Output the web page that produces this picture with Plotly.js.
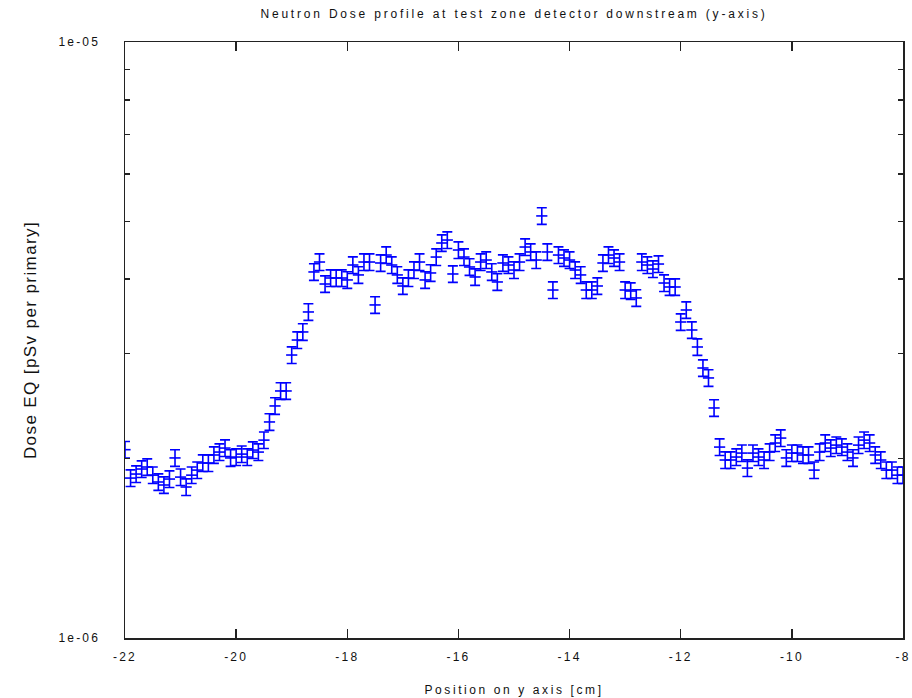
<!DOCTYPE html>
<html>
<head>
<meta charset="utf-8">
<script src="https://cdn.plot.ly/plotly-3.0.1.min.js"></script>
<style>
  html, body { margin: 0; padding: 0; background: #fff; }
  #chart { width: 912px; height: 698px; }
  #chart .gtitle { letter-spacing: 2.8px; }
  #chart .xtitle { letter-spacing: 2.6px; }
  #chart .ytitle { letter-spacing: 1.4px; }
  #chart .xtick text, #chart .ytick text { letter-spacing: 2.2px; }
</style>
</head>
<body>
<div id="chart"></div>
<script>
// Positions on y axis [cm], -22.0 .. -8.0 in 0.1 cm steps
const positions = [
  -22.0,-21.9,-21.8,-21.7,-21.6,-21.5,-21.4,-21.3,-21.2,-21.1,
  -21.0,-20.9,-20.8,-20.7,-20.6,-20.5,-20.4,-20.3,-20.2,-20.1,
  -20.0,-19.9,-19.8,-19.7,-19.6,-19.5,-19.4,-19.3,-19.2,-19.1,
  -19.0,-18.9,-18.8,-18.7,-18.6,-18.5,-18.4,-18.3,-18.2,-18.1,
  -18.0,-17.9,-17.8,-17.7,-17.6,-17.5,-17.4,-17.3,-17.2,-17.1,
  -17.0,-16.9,-16.8,-16.7,-16.6,-16.5,-16.4,-16.3,-16.2,-16.1,
  -16.0,-15.9,-15.8,-15.7,-15.6,-15.5,-15.4,-15.3,-15.2,-15.1,
  -15.0,-14.9,-14.8,-14.7,-14.6,-14.5,-14.4,-14.3,-14.2,-14.1,
  -14.0,-13.9,-13.8,-13.7,-13.6,-13.5,-13.4,-13.3,-13.2,-13.1,
  -13.0,-12.9,-12.8,-12.7,-12.6,-12.5,-12.4,-12.3,-12.2,-12.1,
  -12.0,-11.9,-11.8,-11.7,-11.6,-11.5,-11.4,-11.3,-11.2,-11.1,
  -11.0,-10.9,-10.8,-10.7,-10.6,-10.5,-10.4,-10.3,-10.2,-10.1,
  -10.0,-9.9,-9.8,-9.7,-9.6,-9.5,-9.4,-9.3,-9.2,-9.1,
  -9.0,-8.9,-8.8,-8.7,-8.6,-8.5,-8.4,-8.3,-8.2,-8.1,
  -8.0
];

// Dose equivalent [pSv per primary]
const dose = [
  2.07e-6,1.855e-6,1.884e-6,1.921e-6,1.936e-6,1.876e-6,1.827e-6,1.806e-6,1.848e-6,2.005e-6,
  1.862e-6,1.792e-6,1.876e-6,1.913e-6,1.966e-6,1.966e-6,2.028e-6,2.051e-6,2.083e-6,2.005e-6,
  2.012e-6,2.035e-6,2.012e-6,2.067e-6,2.051e-6,2.148e-6,2.304e-6,2.451e-6,2.597e-6,2.597e-6,
  2.984e-6,3.162e-6,3.262e-6,3.524e-6,4.113e-6,4.274e-6,3.926e-6,4.018e-6,4.018e-6,4.018e-6,
  3.988e-6,4.225e-6,4.066e-6,4.274e-6,4.274e-6,3.621e-6,4.258e-6,4.391e-6,4.225e-6,4.066e-6,
  3.896e-6,4.018e-6,4.144e-6,4.274e-6,3.988e-6,4.097e-6,4.357e-6,4.600e-6,4.653e-6,4.081e-6,
  4.477e-6,4.357e-6,4.193e-6,4.034e-6,4.274e-6,4.307e-6,4.113e-6,3.957e-6,4.258e-6,4.225e-6,
  4.144e-6,4.274e-6,4.529e-6,4.443e-6,4.307e-6,5.107e-6,4.443e-6,3.836e-6,4.391e-6,4.341e-6,
  4.307e-6,4.144e-6,4.066e-6,3.836e-6,3.836e-6,3.896e-6,4.258e-6,4.391e-6,4.341e-6,4.274e-6,
  3.836e-6,3.821e-6,3.720e-6,4.274e-6,4.225e-6,4.160e-6,4.241e-6,3.941e-6,3.881e-6,3.881e-6,
  3.390e-6,3.551e-6,3.287e-6,3.078e-6,2.838e-6,2.731e-6,2.432e-6,2.091e-6,1.989e-6,1.989e-6,
  2.012e-6,2.043e-6,1.928e-6,2.043e-6,2.012e-6,1.989e-6,2.051e-6,2.124e-6,2.165e-6,2.005e-6,
  2.043e-6,2.043e-6,2.028e-6,2.028e-6,1.913e-6,2.051e-6,2.124e-6,2.083e-6,2.107e-6,2.091e-6,
  2.051e-6,2.005e-6,2.107e-6,2.148e-6,2.124e-6,2.028e-6,1.989e-6,1.913e-6,1.913e-6,1.876e-6,
  1.876e-6
];

// Relative statistical error [%]
const relErrorPercent = 3.2;

const xTickVals = [-22, -20, -18, -16, -14, -12, -10, -8];
const yTickVals = [1e-6, 1e-5];
const yTickText = ['1e-06', '1e-05'];
const yMinorVals = [2e-6, 3e-6, 4e-6, 5e-6, 6e-6, 7e-6, 8e-6, 9e-6];

const font = 'Liberation Sans, Arial, sans-serif';
const blue = '#0000ff';
const axisCol = '#222222';

const trace = {
  x: positions,
  y: dose,
  type: 'scatter',
  mode: 'markers',
  marker: { symbol: 'line-ew', size: 8, color: blue, line: { color: blue, width: 1.6 } },
  error_y: { type: 'percent', value: relErrorPercent, color: blue, thickness: 1.6, width: 5 },
  hoverinfo: 'x+y',
  showlegend: false
};

const layout = {
  width: 912,
  height: 698,
  margin: { l: 125, r: 9, t: 42, b: 60 },
  paper_bgcolor: '#ffffff',
  plot_bgcolor: '#ffffff',
  font: { family: font, size: 12, color: '#111111' },
  title: {
    text: 'Neutron Dose profile at test zone detector downstream (y-axis)',
    font: { family: font, size: 12, color: '#111111' },
    x: 0.5, xref: 'paper', xanchor: 'center',
    y: 1 - 14 / 698, yref: 'container', yanchor: 'middle'
  },
  xaxis: {
    range: [-22, -8],
    tickmode: 'array',
    tickvals: xTickVals,
    ticktext: xTickVals.map(v => String(v)),
    ticks: 'inside',
    ticklen: 9,
    tickwidth: 1.5,
    tickcolor: axisCol,
    showline: true,
    linecolor: axisCol,
    linewidth: 1.5,
    mirror: 'ticks',
    showgrid: false,
    zeroline: false,
    tickfont: { family: font, size: 12, color: '#111111' },
    ticklabelstandoff: 7,
    title: { text: 'Position on y axis [cm]', font: { family: font, size: 12, color: '#111111' }, standoff: 22 }
  },
  yaxis: {
    type: 'log',
    range: [-6, -5],
    tickmode: 'array',
    tickvals: yTickVals,
    ticktext: yTickText,
    ticks: 'inside',
    ticklen: 0,
    tickcolor: axisCol,
    minor: { tickmode: 'array', tickvals: yMinorVals, ticks: 'inside', ticklen: 5, tickwidth: 1.5, tickcolor: axisCol, showgrid: false },
    showline: true,
    linecolor: axisCol,
    linewidth: 1.5,
    mirror: 'ticks',
    showgrid: false,
    zeroline: false,
    tickfont: { family: font, size: 12, color: '#111111' },
    ticklabelstandoff: 21,
    title: { text: 'Dose EQ [pSv per primary]', font: { family: font, size: 17, color: '#111111' }, standoff: 28 }
  }
};

Plotly.newPlot('chart', [trace], layout, { staticPlot: true, displayModeBar: false });
</script>
</body>
</html>
